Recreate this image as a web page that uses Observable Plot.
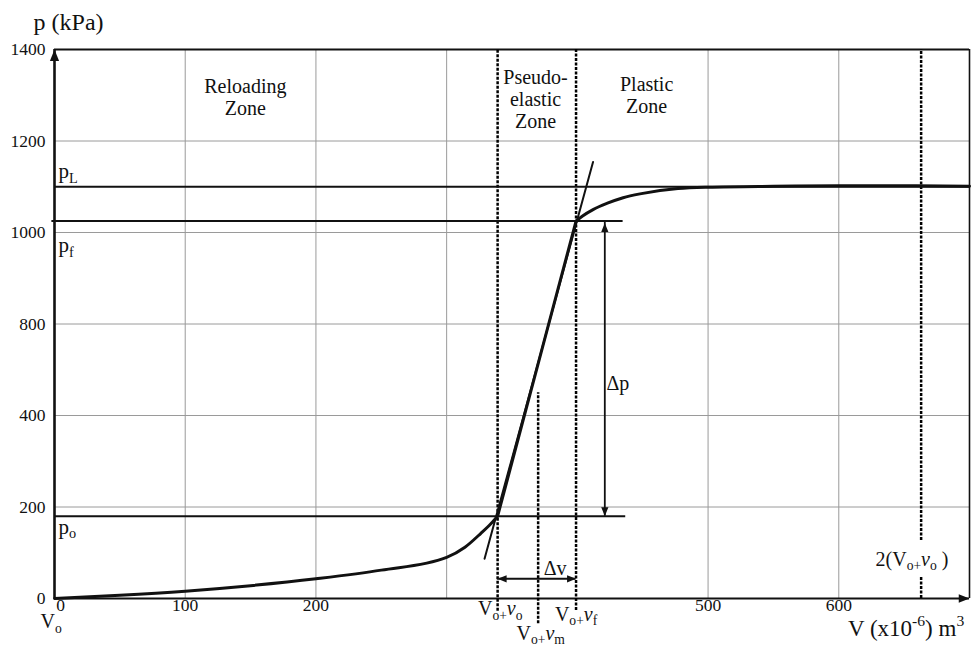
<!DOCTYPE html>
<html><head><meta charset="utf-8">
<script src="https://cdn.jsdelivr.net/npm/d3@7"></script>
<script src="https://cdn.jsdelivr.net/npm/@observablehq/plot@0.6"></script>
<style>
body{margin:0;background:#fff}
svg text, svg tspan { font-family: "Liberation Serif", "DejaVu Serif", "Noto Serif", "Times New Roman", serif !important; }
</style>
</head><body>
<script>
// ---- data ----
const yTicks = [0, 200, 400, 800, 1000, 1200, 1400];
const xTicks = [100, 200, 500, 600];
const xZeroTick = [0];
const xGrid = [100, 200, 300, 500, 600];
const yGrid = [200, 400, 800, 1000, 1200];

const reloadV = [0, 50, 100, 150, 200, 250, 300, 314, 326, 334, 339];
const reloadP = [0, 7, 16, 28, 43, 62, 90, 112, 142, 164, 180];
const elasticV = [339, 399];
const elasticP = [180, 1025];
const plasticV = [399, 404, 412, 423, 435, 449, 477, 500, 550, 600, 650, 700];
const plasticP = [1025, 1036, 1050, 1064, 1076, 1085, 1096, 1099, 1101, 1102, 1102, 1101];
const tangentV = [329, 412];
const tangentP = [87, 1154];

const pL = 1100, pf = 1025, po = 180;
const vo = 339, vm = 370, vf = 399, v2 = 663, vDp = 421, pDv = 43;

const dottedV = [vo, vf, vm, v2, v2];
const dottedP1 = [-28, -26, -55, 127, 0];
const dottedP2 = [1400, 1400, 500, 1400, 46];

const hLineP = [pL, pf, po];
const hLineV1 = [0, -2, 0];
const hLineV2 = [700, 435, 437];

const zoneLabels = ["Reloading\nZone", "Pseudo-\nelastic\nZone", "Plastic\nZone"];
const zoneV = [146, 368, 453];
const zoneP = [1297, 1291, 1300];

const pLabels = ["p_{L}", "p_{f}", "p_{o}"];
const pLabelP = [1134, 972, 156];

const vLabels = ["V_{o+}*v*_{o}", "V_{o+}*v*_{m}", "V_{o+}*v*_{f}", "2(V_{o+}*v*_{o} )"];
const vLabelV = [341, 372, 399, 656];
const vLabelP = [-23, -76, -35, 85];

const deltaLabels = ["Δp", "Δv"];
const deltaV = [431, 383];
const deltaP = [540, 66];

const yTitle = "p (kPa)";
const xTitle = "V (x10^{-6}) m^{3}";
const originLabel = "V_{o}";

// ---- layout ----
const W = 971, H = 647, mL = 54, mR = 2, mT = 49, mB = 49;
const yRange = yTicks.map((d, i) => H - mB - i * (H - mB - mT) / (yTicks.length - 1));

const tri = (dir) => ({
  draw(ctx, size) {
    const k = Math.sqrt(size / Math.PI) / 4, L = 10 * k, w = 4 * k;
    ctx.moveTo(0, 0);
    if (dir === "up") { ctx.lineTo(-w, L); ctx.lineTo(w, L); }
    else if (dir === "down") { ctx.lineTo(-w, -L); ctx.lineTo(w, -L); }
    else if (dir === "right") { ctx.lineTo(-L, -w); ctx.lineTo(-L, w); }
    else { ctx.lineTo(L, -w); ctx.lineTo(L, w); }
    ctx.closePath();
  }
});

const idx = (a) => a.map((_, i) => i);
const serif = "Liberation Serif, DejaVu Serif, serif";
const ink = "#111";

const chart = Plot.plot({
  width: W, height: H,
  marginLeft: mL, marginRight: mR, marginTop: mT, marginBottom: mB,
  style: {background: "#fff", fontSize: "17px", color: ink},
  x: {type: "linear", domain: [0, 700], axis: null},
  y: {type: "linear", domain: yTicks, range: yRange, axis: null},
  marks: [
    Plot.ruleY(yGrid, {x1: 0, x2: 700, stroke: "#9a9a9a", strokeWidth: 1}),
    Plot.ruleX(xGrid, {y1: 0, y2: 1400, stroke: "#9a9a9a", strokeWidth: 1}),
    // frame
    Plot.ruleY([1400], {x1: 0, x2: 700, stroke: ink, strokeWidth: 2}),
    Plot.ruleX([700], {y1: 0, y2: 1400, stroke: ink, strokeWidth: 1.6}),
    Plot.ruleY([0], {x1: 0, x2: 700, stroke: ink, strokeWidth: 2}),
    Plot.ruleX([0], {y1: 0, y2: 1400, stroke: ink, strokeWidth: 2.6}),
    // dotted verticals
    Plot.ruleX(idx(dottedV), {x: i => dottedV[i], y1: i => dottedP1[i], y2: i => dottedP2[i],
      stroke: "#000", strokeWidth: 2.5, strokeDasharray: "3,1.5"}),
    // horizontal p lines
    Plot.ruleY(idx(hLineP), {y: i => hLineP[i], x1: i => hLineV1[i], x2: i => hLineV2[i],
      stroke: ink, strokeWidth: 2}),
    // tangent
    Plot.line(idx(tangentV), {x: i => tangentV[i], y: i => tangentP[i], stroke: ink, strokeWidth: 2}),
    // curve
    Plot.line(idx(reloadV), {x: i => reloadV[i], y: i => reloadP[i], curve: "monotone-x", stroke: ink, strokeWidth: 3}),
    Plot.line(idx(elasticV), {x: i => elasticV[i], y: i => elasticP[i], stroke: ink, strokeWidth: 3}),
    Plot.line(idx(plasticV), {x: i => plasticV[i], y: i => plasticP[i], curve: "monotone-x", stroke: ink, strokeWidth: 3}),
    // delta arrows
    Plot.ruleX([vDp], {y1: po, y2: pf, stroke: ink, strokeWidth: 1.8}),
    Plot.ruleY([pDv], {x1: vo, x2: vf, stroke: ink, strokeWidth: 2}),
    Plot.dot([0], {x: vDp, y: pf, dy: 2, symbol: tri("up"), r: 3.6, fill: ink}),
    Plot.dot([0], {x: vDp, y: po, symbol: tri("down"), r: 3.6, fill: ink}),
    Plot.dot([0], {x: vo, y: pDv, symbol: tri("left"), r: 3.6, fill: ink}),
    Plot.dot([0], {x: vf, y: pDv, symbol: tri("right"), r: 3.6, fill: ink}),
    // axis arrows
    Plot.dot([0], {x: 0, y: 1400, symbol: tri("up"), r: 4.6, fill: ink}),
    Plot.dot([0], {x: 700, y: 0, symbol: tri("right"), r: 4.3, fill: ink}),
    // tick labels
    Plot.text(yTicks, {y: d => d, text: d => String(d), frameAnchor: "left", dx: -9, textAnchor: "end", fontSize: 17.5, fontFamily: serif}),
    Plot.text(xTicks, {x: d => d, text: d => String(d), frameAnchor: "bottom", dy: 12, fontSize: 17.5, fontFamily: serif}),
    Plot.text(xZeroTick, {x: d => d, text: d => String(d), frameAnchor: "bottom", dy: 12, dx: 6, fontSize: 17.5, fontFamily: serif}),
    // titles
    Plot.text([yTitle], {x: -16, y: 1459, text: d => d, textAnchor: "start", fontSize: 24, fontFamily: serif}),
    Plot.text([xTitle], {x: 607, y: -66, text: d => d, textAnchor: "start", fontSize: 23, fontFamily: serif}),
    Plot.text([originLabel], {x: -10.7, y: -51, text: d => d, textAnchor: "start", fontSize: 20, fontFamily: serif}),
    // zones
    Plot.text(idx(zoneLabels), {x: i => zoneV[i], y: i => zoneP[i], text: i => zoneLabels[i], fontSize: 20, lineHeight: 1.1, fontFamily: serif}),
    // p labels
    Plot.text(idx(pLabels), {x: 3, y: i => pLabelP[i], text: i => pLabels[i], textAnchor: "start", fontSize: 21, fontFamily: serif}),
    // v labels
    Plot.text(idx(vLabels), {x: i => vLabelV[i], y: i => vLabelP[i], text: i => vLabels[i], fontSize: 20, fontFamily: serif}),
    // delta labels
    Plot.text(idx(deltaLabels), {x: i => deltaV[i], y: i => deltaP[i], text: i => deltaLabels[i], fontSize: 20, fontFamily: serif})
  ]
});
document.body.appendChild(chart);

// rich text: _{sub}, ^{sup}, *italic*
const NS = "http://www.w3.org/2000/svg";
function richify(el) {
  const s = el.textContent;
  if (el.querySelector("tspan")) return;
  if (!/_\{|\^\{|\*/.test(s)) return;
  const base = parseFloat(getComputedStyle(el).fontSize) || 20;
  el.textContent = "";
  const re = /_\{([^}]*)\}|\^\{([^}]*)\}|\*([^*]*)\*|([^_^*]+)/g;
  let m, cur = 0;
  while ((m = re.exec(s))) {
    let txt, off = 0, size = null, italic = false;
    if (m[1] != null) { txt = m[1]; off = 0.22 * base; size = 0.68 * base; }
    else if (m[2] != null) { txt = m[2]; off = -0.42 * base; size = 0.68 * base; }
    else if (m[3] != null) { txt = m[3]; italic = true; }
    else txt = m[4];
    const t = document.createElementNS(NS, "tspan");
    if (off !== cur) { t.setAttribute("dy", off - cur); cur = off; }
    if (size) t.setAttribute("font-size", size);
    if (italic) t.setAttribute("font-style", "italic");
    t.textContent = txt;
    el.appendChild(t);
  }
}
chart.querySelectorAll("text").forEach(richify);
</script>
</body></html>
